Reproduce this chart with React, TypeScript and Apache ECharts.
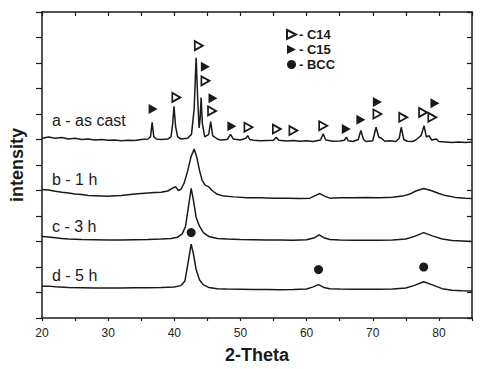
import React, { useEffect, useRef } from "react";
import * as echarts from "echarts";

// 2-Theta range and tick labels
const xMin = 20;
const xMax = 85;
const xTickLabels = [20, 30, 40, 50, 60, 70, 80];

// XRD patterns, [2-theta, offset intensity]
const curveA: number[][] = [
  [20, 7.05], [21, 7.1], [22, 7.05], [23, 7.08], [24, 7.02], [25, 7.05], [26, 7.0], [27, 7.02], [28, 6.98], [29, 7.0],
  [30, 6.97], [31, 6.98], [32, 6.95], [33, 6.97], [34, 6.96], [35, 7.0], [36, 7.02], [36.4, 7.1], [36.65, 7.67], [36.9, 7.1],
  [37.3, 7.02], [38, 7.0], [39, 7.02], [39.5, 7.1], [39.75, 7.6], [39.95, 8.3], [40.2, 7.5], [40.5, 7.1], [41, 7.02], [42, 7.05],
  [42.6, 7.2], [43.0, 8.2], [43.3, 10.2], [43.55, 8.5], [43.75, 7.45], [43.9, 7.8], [44.05, 8.65], [44.25, 7.6], [44.6, 7.1], [45.2, 7.2],
  [45.5, 7.7], [45.8, 7.15], [46.5, 7.02], [47, 6.98], [48, 7.0], [48.5, 7.2], [48.9, 7.02], [50, 6.98], [50.8, 7.05], [51.1, 7.15],
  [51.4, 7.0], [52, 6.97], [53, 6.95], [54, 6.96], [55, 6.97], [55.4, 7.09], [55.8, 6.97], [57, 6.94], [58, 6.96], [59, 6.93],
  [60, 6.95], [61, 6.92], [62.1, 6.98], [62.5, 7.22], [62.9, 6.98], [64, 6.93], [65, 6.94], [65.7, 6.97], [66, 7.09], [66.3, 6.95],
  [67, 6.92], [67.8, 7.0], [68.2, 7.35], [68.6, 7.0], [69, 6.92], [70, 6.95], [70.5, 7.48], [70.9, 7.1], [71.3, 7.05], [71.8, 6.93],
  [72.5, 6.95], [73.5, 6.92], [74.0, 7.05], [74.3, 7.48], [74.7, 7.0], [75.2, 6.93], [76, 6.92], [76.5, 6.98], [77.3, 7.15], [77.75, 7.54],
  [78.1, 7.1], [78.5, 7.15], [78.9, 6.98], [79.6, 7.02], [80, 6.92], [81, 6.9], [82, 6.88], [83, 6.9], [84, 6.88], [85, 6.9],
];

const curveB: number[][] = [
  [20, 5.04], [21, 5.02], [22, 4.97], [23, 4.93], [24, 4.9], [25, 4.86], [26, 4.84], [27, 4.8], [28, 4.79], [29, 4.78],
  [30, 4.77], [31, 4.79], [32, 4.8], [33, 4.83], [34, 4.86], [35, 4.88], [36, 4.9], [37, 4.92], [38, 4.93], [39, 4.98],
  [39.8, 5.1], [40.2, 5.15], [40.6, 5.0], [41.0, 5.05], [41.5, 5.3], [42.0, 5.75], [42.5, 6.3], [43.0, 6.63], [43.4, 6.3], [43.8, 5.8],
  [44.2, 5.4], [44.7, 5.2], [45.2, 5.15], [45.7, 5.0], [46.5, 4.85], [47.5, 4.78], [49, 4.75], [51, 4.72], [53, 4.72], [55, 4.7],
  [57, 4.7], [59, 4.69], [60.5, 4.7], [61.3, 4.8], [62.0, 4.88], [62.7, 4.78], [63.5, 4.7], [65, 4.72], [67, 4.72], [69, 4.73],
  [71, 4.72], [73, 4.74], [74.5, 4.78], [75.5, 4.85], [76.5, 4.98], [77.7, 5.08], [78.8, 5.0], [80, 4.88], [81, 4.8], [82.5, 4.73],
  [84, 4.7], [85, 4.69],
];

const curveC: number[][] = [
  [20, 3.2], [21, 3.18], [22, 3.15], [23, 3.12], [24, 3.1], [26, 3.08], [28, 3.07], [30, 3.06], [32, 3.06], [34, 3.07],
  [36, 3.08], [38, 3.1], [39.5, 3.12], [40.5, 3.17], [41.2, 3.3], [41.7, 3.6], [42.1, 4.3], [42.55, 5.08], [42.9, 4.6], [43.3, 3.95],
  [43.8, 3.6], [44.4, 3.35], [45.2, 3.2], [46.5, 3.12], [48, 3.1], [50, 3.08], [52, 3.07], [54, 3.06], [56, 3.06], [58, 3.05],
  [60, 3.07], [61.2, 3.15], [61.9, 3.26], [62.6, 3.15], [63.5, 3.08], [65, 3.06], [67, 3.05], [69, 3.05], [71, 3.05], [73, 3.06],
  [75, 3.1], [76.3, 3.2], [77.7, 3.35], [79, 3.22], [80.5, 3.1], [82, 3.04], [83.5, 3.02], [85, 3.0],
];

const curveD: number[][] = [
  [20, 1.25], [21, 1.25], [22, 1.23], [24, 1.2], [26, 1.19], [28, 1.18], [30, 1.18], [32, 1.18], [34, 1.19], [36, 1.19],
  [38, 1.2], [40, 1.22], [41, 1.27], [41.6, 1.45], [42.1, 2.2], [42.55, 2.9], [42.9, 2.5], [43.3, 1.9], [43.8, 1.5], [44.4, 1.3],
  [45.2, 1.2], [46.5, 1.15], [48, 1.14], [50, 1.13], [52, 1.12], [54, 1.12], [56, 1.11], [58, 1.12], [60, 1.14], [61, 1.22],
  [61.8, 1.31], [62.6, 1.2], [63.5, 1.15], [65, 1.14], [67, 1.13], [69, 1.13], [71, 1.13], [73, 1.14], [75, 1.18], [76.3, 1.28],
  [77.7, 1.42], [79, 1.3], [80.5, 1.15], [82, 1.09], [83.5, 1.07], [85, 1.06],
];

// Phase markers
const c14Markers: number[][] = [
  [40.3, 8.65], [43.7, 10.68], [44.7, 9.3], [45.7, 8.12], [51.2, 7.48], [55.5, 7.41],
  [58.0, 7.35], [62.5, 7.54], [70.7, 8.0], [74.6, 7.87], [77.6, 8.06], [79.0, 7.87],
];
const c15Markers: number[][] = [
  [36.8, 8.2], [44.7, 9.85], [45.85, 8.62], [48.7, 7.52], [66.0, 7.41], [68.2, 7.77], [70.7, 8.47], [79.4, 8.42],
];
const bccMarkers: number[][] = [
  [42.55, 3.35], [61.8, 1.9], [77.7, 2.0],
];

const curveLabels = ["a - as cast", "b - 1 h", "c - 3 h", "d - 5 h"];
const legendNames = ["C14", "C15", "BCC"];

const INK = "#1a1a1a";
const FONT = "Liberation Sans, Arial, sans-serif";
const TRI = "path://M0,0L10,5L0,10Z";

export default function App() {
  const ref = useRef<HTMLDivElement>(null);
  useEffect(() => {
    if (!ref.current) return;
    const chart = echarts.init(ref.current, undefined, { renderer: "svg" });
    // All x axes share one range and all y axes share one range, so any
    // binding maps identically; binding gives the frame axes a non-blank scale.
    const bind = [
      [1, 1],
      [2, 2],
      [0, 0],
      [0, 0],
    ];
    const lineSeries = [curveA, curveB, curveC, curveD].map((d, i) => ({
      type: "line",
      data: d,
      xAxisIndex: bind[i][0],
      yAxisIndex: bind[i][1],
      showSymbol: false,
      symbol: "none",
      lineStyle: { color: INK, width: 1.5 },
      silent: true,
    }));
    const labelY = [121, 180, 227, 276];
    const frameX = {
      type: "value",
      min: xMin,
      max: xMax,
      interval: 5,
      axisLabel: { show: false },
      splitLine: { show: false },
    };
    const frameY = {
      type: "value",
      min: 0,
      max: 12,
      interval: 1,
      axisLabel: { show: false },
      splitLine: { show: false },
    };
    chart.setOption({
      animation: false,
      backgroundColor: "#ffffff",
      grid: { left: 41, right: 8, top: 12, bottom: 48 },
      legend: {
        orient: "vertical",
        left: 281,
        top: 23,
        itemWidth: 9,
        itemHeight: 10,
        itemGap: 2,
        data: legendNames,
        formatter: (n: string) => "- " + n,
        textStyle: { fontFamily: FONT, fontWeight: "bold", fontSize: 13, lineHeight: 13, color: INK, padding: [0, 0, 0, -2] },
      },
      xAxis: [
        {
          type: "value",
          position: "bottom",
          min: xMin,
          max: xMax,
          interval: 5,
          name: "2-Theta",
          nameLocation: "middle",
          nameGap: 28,
          nameTextStyle: { fontFamily: FONT, fontWeight: "bold", fontSize: 18, color: INK },
          axisLine: { lineStyle: { color: INK, width: 1.5 } },
          axisTick: { show: true, length: 3, lineStyle: { color: INK, width: 1.2 } },
          axisLabel: {
            margin: 9,
            fontFamily: FONT,
            fontSize: 12,
            color: "#222",
            formatter: (v: number) => (xTickLabels.includes(v) ? String(v) : ""),
          },
          splitLine: { show: false },
        },
        // top frame line
        {
          ...frameX,
          position: "top",
          axisLine: { show: true, onZero: false, lineStyle: { color: INK, width: 1.5 } },
          axisTick: { show: false },
        },
        // top ticks: an offset axis 4px inside, ticks pointing up to the frame
        {
          ...frameX,
          position: "top",
          offset: -4,
          axisLine: { show: false, onZero: false },
          axisTick: { show: true, length: 4, lineStyle: { color: INK, width: 1.2 } },
        },
      ],
      yAxis: [
        {
          type: "value",
          position: "left",
          min: 0,
          max: 12,
          interval: 1,
          name: "intensity",
          nameLocation: "middle",
          nameGap: 16,
          nameTextStyle: { fontFamily: FONT, fontWeight: "bold", fontSize: 18, color: INK },
          axisLine: { show: true, lineStyle: { color: INK, width: 1.5 } },
          axisTick: { show: true, length: 6, lineStyle: { color: INK, width: 1.2 } },
          axisLabel: { show: false },
          splitLine: { show: false },
        },
        // right frame line
        {
          ...frameY,
          position: "right",
          axisLine: { show: true, onZero: false, lineStyle: { color: INK, width: 1.5 } },
          axisTick: { show: false },
        },
        // right ticks: an offset axis 5px inside, ticks pointing right to the frame
        {
          ...frameY,
          position: "right",
          offset: -5,
          axisLine: { show: false, onZero: false },
          axisTick: { show: true, length: 5, lineStyle: { color: INK, width: 1.2 } },
        },
      ],
      series: [
        ...lineSeries,
        {
          name: "C14",
          type: "scatter",
          data: c14Markers,
          symbol: TRI,
          symbolSize: [8, 9],
          itemStyle: { color: "#ffffff", borderColor: INK, borderWidth: 1.8, opacity: 1 },
        },
        {
          name: "C15",
          type: "scatter",
          data: c15Markers,
          symbol: TRI,
          symbolSize: [9, 10],
          itemStyle: { color: INK, opacity: 1 },
        },
        {
          name: "BCC",
          type: "scatter",
          data: bccMarkers,
          symbol: "circle",
          symbolSize: 9,
          itemStyle: { color: INK, opacity: 1 },
        },
      ],
      graphic: curveLabels.map((t, i) => ({
        type: "text",
        left: 52,
        top: labelY[i] - 9,
        style: { text: t, fontFamily: FONT, fontSize: 16, fill: INK },
        silent: true,
      })),
    });
    return () => chart.dispose();
  }, []);
  return (
    <div style={{ position: "fixed", left: 0, top: 0, width: 480, height: 369, background: "#fff" }}>
      <div ref={ref} style={{ width: 480, height: 369 }} />
    </div>
  );
}
